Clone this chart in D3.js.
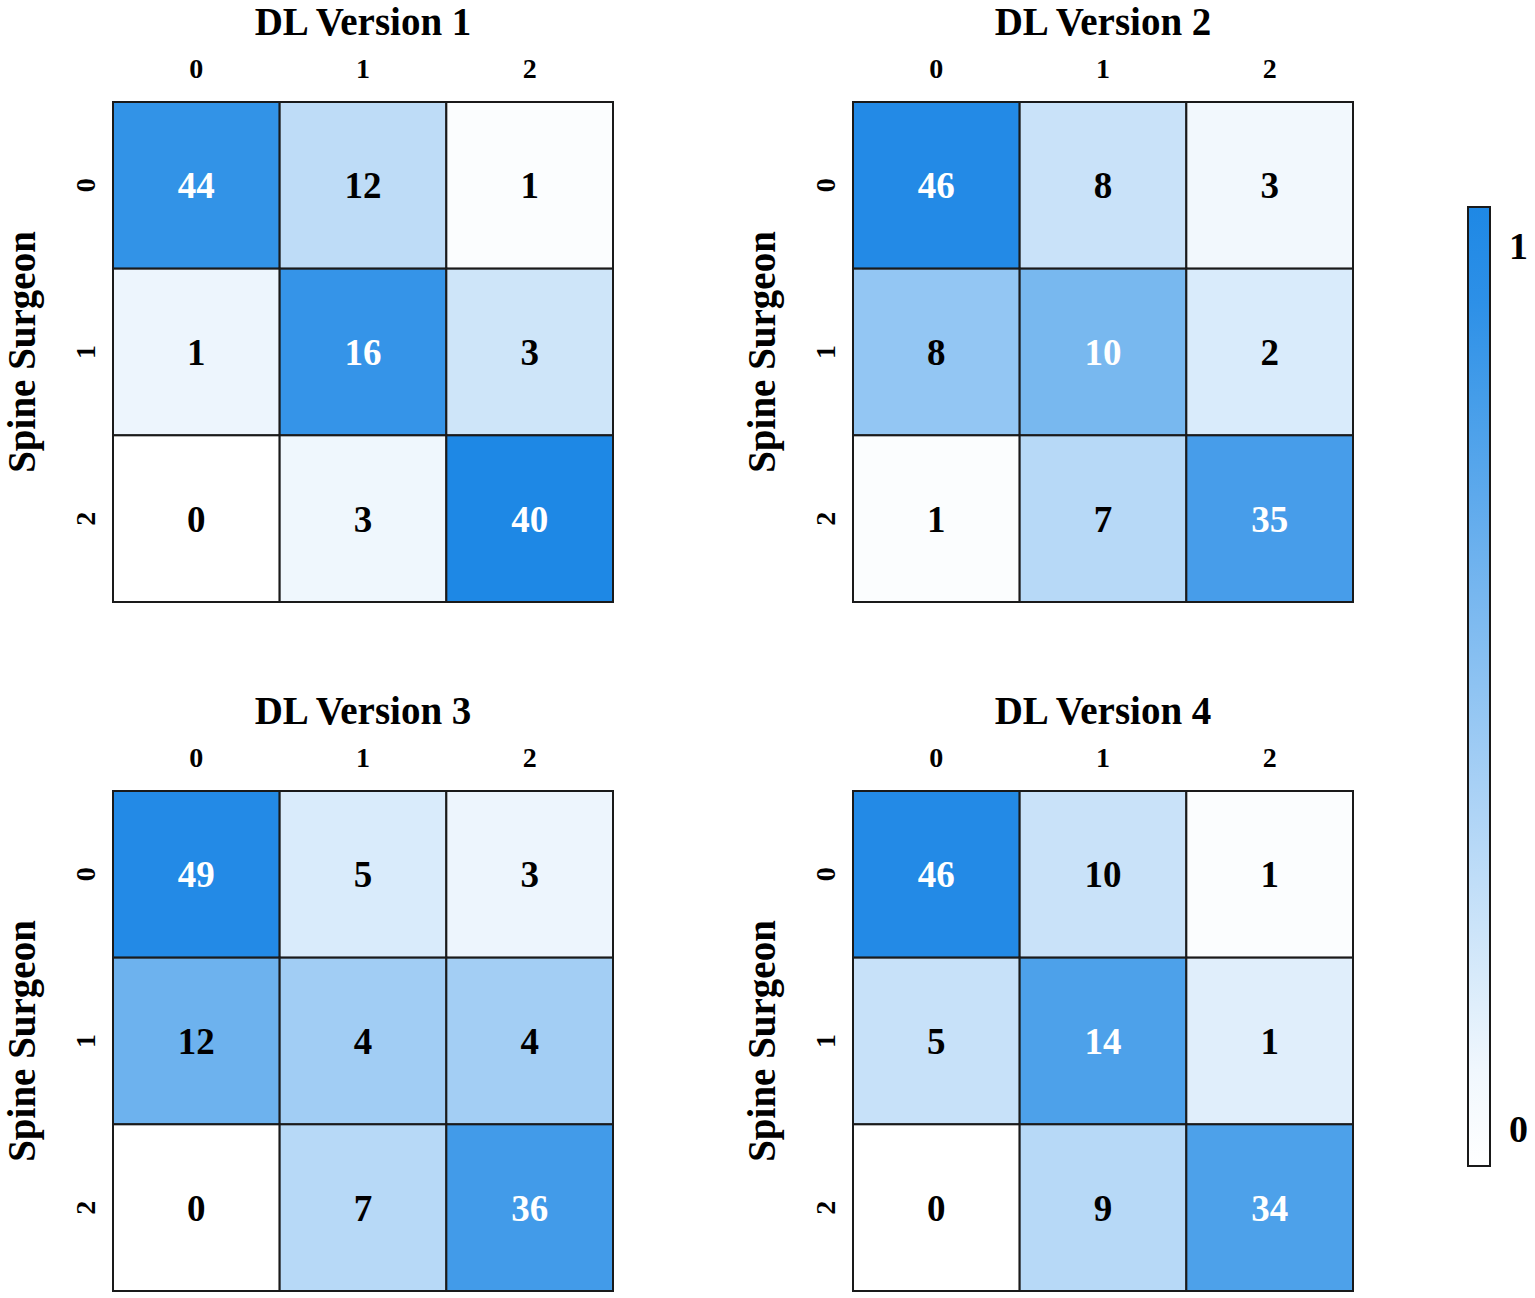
<!DOCTYPE html>
<html>
<head>
<meta charset="utf-8">
<script src="https://cdn.jsdelivr.net/npm/d3@7"></script>
<style>
  body { margin: 0; background: #fff; }
  text { font-family: "Liberation Serif", "Times New Roman", serif; font-weight: bold; }
</style>
</head>
<body>
<div id="svg-container"></div>
<script>
/// DATA

const titles = ["DL Version 1", "DL Version 2", "DL Version 3", "DL Version 4"]
const classes = [0, 1, 2]
const yLabel = "Spine Surgeon"

// counts (rows = Spine Surgeon, columns = DL)
const countsV1 = [[44, 12, 1], [1, 16, 3], [0, 3, 40]]
const countsV2 = [[46, 8, 3], [8, 10, 2], [1, 7, 35]]
const countsV3 = [[49, 5, 3], [12, 4, 4], [0, 7, 36]]
const countsV4 = [[46, 10, 1], [5, 14, 1], [0, 9, 34]]

// cell shade on the 0-1 colour bar
const shadeV1 = [[0.91, 0.29, 0.02], [0.08, 0.9, 0.22], [0, 0.07, 1.0]]
const shadeV2 = [[0.98, 0.24, 0.06], [0.48, 0.6, 0.17], [0.02, 0.32, 0.82]]
const shadeV3 = [[0.98, 0.17, 0.08], [0.65, 0.42, 0.41], [0, 0.32, 0.84]]
const shadeV4 = [[0.98, 0.24, 0.02], [0.25, 0.79, 0.14], [0, 0.32, 0.79]]

const colorbarTicks = [0, 1]

const panels = [
  { title: titles[0], counts: countsV1, shade: shadeV1 },
  { title: titles[1], counts: countsV2, shade: shadeV2 },
  { title: titles[2], counts: countsV3, shade: shadeV3 },
  { title: titles[3], counts: countsV4, shade: shadeV4 },
]

/// LAYOUT

const width = 1535
const height = 1298
const gridSize = 500
const origins = [
  { x: 113, y: 102 },
  { x: 853, y: 102 },
  { x: 113, y: 791 },
  { x: 853, y: 791 },
]

const colorScale = d3
  .scaleLinear()
  .domain([0, 1])
  .range(["#ffffff", "#1e88e5"])
  .clamp(true)

const svg = d3
  .select("#svg-container")
  .append("svg")
  .attr("width", width)
  .attr("height", height)
  .attr("viewBox", [0, 0, width, height])

const xScale = d3.scaleBand().domain(classes).range([0, gridSize])
const yScale = d3.scaleBand().domain(classes).range([0, gridSize])

panels.forEach((p, k) => {
  const o = origins[k]
  const g = svg.append("g").attr("transform", `translate(${o.x},${o.y})`)

  const cells = []
  classes.forEach((r) => {
    classes.forEach((c) => {
      cells.push({ r, c, n: p.counts[r][c], s: p.shade[r][c] })
    })
  })

  g.selectAll("rect.cell")
    .data(cells)
    .join("rect")
    .attr("class", "cell")
    .attr("x", (d) => xScale(d.c))
    .attr("y", (d) => yScale(d.r))
    .attr("width", xScale.bandwidth())
    .attr("height", yScale.bandwidth())
    .attr("fill", (d) => colorScale(d.s))
    .attr("stroke", "#1a1a1a")
    .attr("stroke-width", 2)

  g.selectAll("text.val")
    .data(cells)
    .join("text")
    .attr("class", "val")
    .attr("x", (d) => xScale(d.c) + xScale.bandwidth() / 2)
    .attr("y", (d) => yScale(d.r) + yScale.bandwidth() / 2)
    .attr("dy", "0.35em")
    .attr("text-anchor", "middle")
    .style("font-size", "37px")
    // correct predictions on a dark cell get white numbers
    .attr("fill", (d) => (d.r === d.c && d.s > 0.5 ? "#ffffff" : "#000000"))
    .text((d) => d.n)

  // outer frame
  g.append("rect")
    .attr("width", gridSize)
    .attr("height", gridSize)
    .attr("fill", "none")
    .attr("stroke", "#1a1a1a")
    .attr("stroke-width", 2)

  const xAxis = g
    .append("g")
    .attr("transform", "translate(0,-21)")
    .call(d3.axisTop(xScale).tickSize(0))
  xAxis.select(".domain").remove()
  xAxis
    .selectAll("text")
    .style("font-size", "28px")
    .attr("fill", "#000")

  const yAxis = g
    .append("g")
    .attr("transform", "translate(-28,0)")
    .call(d3.axisLeft(yScale).tickSize(0))
  yAxis.select(".domain").remove()
  yAxis
    .selectAll("text")
    .attr("x", 0)
    .attr("dy", "0.35em")
    .attr("transform", "rotate(-90)")
    .attr("text-anchor", "middle")
    .style("font-size", "28px")
    .attr("fill", "#000")

  g.append("text")
    .attr("x", gridSize / 2)
    .attr("y", -67)
    .attr("text-anchor", "middle")
    .style("font-size", "39px")
    .text(p.title)

  g.append("text")
    .attr("transform", `translate(-78,${gridSize / 2}) rotate(-90)`)
    .attr("text-anchor", "middle")
    .style("font-size", "39px")
    .text(yLabel)
})

/// COLOR BAR

const barX = 1468
const barW = 22
const barTop = 207
const barBottom = 1166

const defs = svg.append("defs")
const grad = defs
  .append("linearGradient")
  .attr("id", "cbar")
  .attr("x1", 0)
  .attr("y1", 1)
  .attr("x2", 0)
  .attr("y2", 0)

const barScale = d3
  .scaleLinear()
  .domain([-0.041, 1.044])
  .range([barBottom, barTop])

d3.range(0, 1.001, 0.1).forEach((t) => {
  const v = barScale.domain()[0] + t * (barScale.domain()[1] - barScale.domain()[0])
  grad
    .append("stop")
    .attr("offset", t)
    .attr("stop-color", colorScale(v))
})

svg
  .append("rect")
  .attr("x", barX)
  .attr("y", barTop)
  .attr("width", barW)
  .attr("height", barBottom - barTop)
  .attr("fill", "url(#cbar)")
  .attr("stroke", "#1a1a1a")
  .attr("stroke-width", 2)

const cAxis = svg
  .append("g")
  .attr("transform", `translate(${barX + barW + 16},0)`)
  .call(d3.axisRight(barScale).tickValues(colorbarTicks).tickSize(0).tickFormat(d3.format("d")))
cAxis.select(".domain").remove()
cAxis
  .selectAll("text")
  .style("font-size", "38px")
  .attr("fill", "#000")
</script>
</body>
</html>
